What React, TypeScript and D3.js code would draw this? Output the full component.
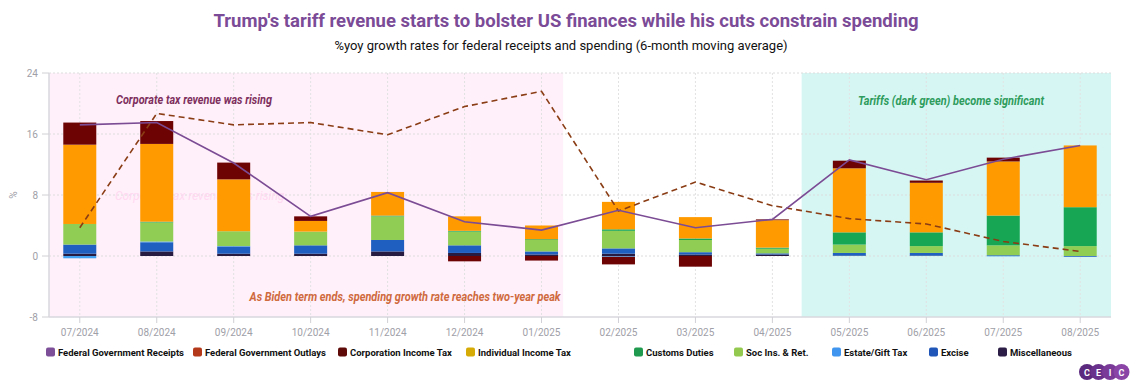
import React from "react";
import * as d3 from "d3";

const categories = ["07/2024","08/2024","09/2024","10/2024","11/2024","12/2024","01/2025","02/2025","03/2025","04/2025","05/2025","06/2025","07/2025","08/2025"];
const receipts = [17.2, 17.5, 12.2, 5.2, 8.3, 4.5, 3.4, 6.0, 3.7, 4.8, 12.6, 10.0, 12.7, 14.5];
const outlays = [3.7, 18.7, 17.2, 17.5, 15.9, 19.6, 21.6, 5.9, 9.7, 6.6, 4.9, 4.2, 1.9, 0.6];
const misc = [0.3, 0.6, 0.3, 0.3, 0.6, 0.4, 0.2, 0.3, 0.2, 0.2, 0.05, 0.05, 0.0, 0.0];
const excise = [1.2, 1.2, 0.95, 1.1, 1.5, 1.0, 0.4, 0.7, 0.3, 0.15, 0.35, 0.35, 0.1, -0.1];
const estate = [-0.3, 0.1, 0.05, 0.0, 0.0, 0.0, 0.0, -0.1, 0.0, 0.0, 0.0, 0.0, -0.05, 0.0];
const socIns = [2.7, 2.5, 1.95, 1.8, 3.1, 1.8, 1.5, 2.3, 1.6, 0.6, 1.1, 0.9, 1.3, 1.3];
const customs = [0.0, 0.1, 0.0, 0.0, 0.1, 0.1, 0.1, 0.2, 0.2, 0.15, 1.6, 1.8, 3.9, 5.1];
const individual = [10.4, 10.2, 6.8, 1.4, 3.1, 1.9, 1.8, 3.6, 2.8, 3.6, 8.4, 6.5, 7.1, 8.1];
const corporation = [2.9, 3.0, 2.2, 0.6, 0.0, -0.7, -0.6, -1.0, -1.4, 0.1, 1.0, 0.3, 0.5, 0.0];
const yTicks = [24, 16, 8, 0, -8];

const stackKeys = ["misc", "excise", "estate", "socIns", "customs", "individual", "corporation"];
const stackSeries: Record<string, number[]> = { misc, excise, estate, socIns, customs, individual, corporation };
const barColors: Record<string, string> = {
  misc: "#271b42",
  excise: "#1f5fbf",
  estate: "#43a3f2",
  socIns: "#8fcd55",
  customs: "#17a653",
  individual: "#ff9a00",
  corporation: "#6e0303",
};

const legendItems = [
  { label: "Federal Government Receipts", color: "#7c4f98", x: 46 },
  { label: "Federal Government Outlays", color: "#b4391b", x: 193 },
  { label: "Corporation Income Tax", color: "#5e0a08", x: 338 },
  { label: "Individual Income Tax", color: "#d7ab05", x: 466 },
  { label: "Customs Duties", color: "#1f9a4e", x: 634 },
  { label: "Soc Ins. & Ret.", color: "#93c94f", x: 734 },
  { label: "Estate/Gift Tax", color: "#4096ee", x: 832 },
  { label: "Excise", color: "#1f56b8", x: 929 },
  { label: "Miscellaneous", color: "#2b1d45", x: 998 },
];

const W = 1133, H = 387;
const left = 49, right = 1111, top = 73, bottom = 317;
const font = "Roboto, 'Noto Sans', sans-serif";

export default function App() {
  const x = d3.scalePoint<string>().domain(categories).range([left, right]).padding(0.4);
  const step = x.step();
  const y = d3.scaleLinear().domain([-8, 24]).range([bottom, top]);
  const barW = 33;

  const table = categories.map((c, i) => {
    const row: any = { cat: c };
    stackKeys.forEach((k) => (row[k] = stackSeries[k][i]));
    return row;
  });
  const stacked = d3.stack<any>().keys(stackKeys).offset(d3.stackOffsetDiverging)(table);

  const lineGen = d3
    .line<number>()
    .x((_, i) => x(categories[i]) as number)
    .y((d) => y(d));

  const pinkEnd = (x("01/2025") as number) + 0.28 * step;
  const cyanStart = (x("05/2025") as number) - 0.62 * step;

  return (
    <svg width={W} height={H} style={{ position: "absolute", left: 0, top: 0, background: "#fff" }} fontFamily={font}>
      <rect x={0} y={0} width={W} height={H} fill="#fff" />
      <text x={566} y={27} textAnchor="middle" fontSize={18.5} fontWeight="bold" fill="#7b4b97">
        Trump's tariff revenue starts to bolster US finances while his cuts constrain spending
      </text>
      <text x={561} y={50} textAnchor="middle" fontSize={13} fill="#111">
        %yoy growth rates for federal receipts and spending (6-month moving average)
      </text>

      {/* highlighted regions */}
      <rect x={left} y={top} width={pinkEnd - left} height={bottom - top} fill="#fff0fa" />
      <rect x={cyanStart} y={top} width={right - cyanStart} height={bottom - top} fill="#d6f6f4" />

      {/* gridlines */}
      {yTicks.filter((t) => t !== -8).map((t) => (
        <line key={"gy" + t} x1={left} x2={right} y1={y(t)} y2={y(t)} stroke="#dcdcdc" strokeDasharray="2,2" strokeWidth={1} />
      ))}
      {categories.map((c) => (
        <line key={"gx" + c} x1={x(c)} x2={x(c)} y1={top} y2={bottom} stroke="#e2e2e2" strokeDasharray="2,2" strokeWidth={1} />
      ))}

      {/* axes */}
      <line x1={left} x2={left} y1={top} y2={bottom} stroke="#d9d9de" strokeWidth={1.5} />
      <line x1={left} x2={right} y1={bottom} y2={bottom} stroke="#d9d9de" strokeWidth={1.5} />
      {yTicks.map((t) => (
        <g key={"yt" + t}>
          <line x1={left - 7} x2={left} y1={y(t)} y2={y(t)} stroke="#d0d0d6" />
          <text x={left - 11} y={y(t) + 3.5} textAnchor="end" fontSize={10} fill="#a0a0a8">{t}</text>
        </g>
      ))}
      {categories.map((c) => (
        <g key={"xt" + c}>
          <line x1={x(c)} x2={x(c)} y1={bottom} y2={bottom + 6} stroke="#d0d0d6" />
          <text x={x(c)} y={336} textAnchor="middle" fontSize={10} fill="#a0a0a8">{c}</text>
        </g>
      ))}
      <text transform={`translate(17,195) rotate(-90)`} textAnchor="middle" fontSize={10} fill="#a0a0a8">%</text>

      {/* faint ghost annotation */}
      <text x={115} y={200} fontSize={12} fill="#ffd9f1" fontStyle="italic">Corporate tax revenue was rising</text>

      {/* bars */}
      {stacked.map((s) => (
        <g key={s.key} fill={barColors[s.key]}>
          {s.map((d, i) => {
            const y0 = y(d[0]), y1 = y(d[1]);
            const h = Math.abs(y0 - y1);
            if (h < 0.01) return null;
            return (
              <rect key={i} x={(x(categories[i]) as number) - barW / 2} y={Math.min(y0, y1)} width={barW} height={h} />
            );
          })}
        </g>
      ))}

      {/* lines */}
      <path d={lineGen(outlays) || ""} fill="none" stroke="#8a3d14" strokeWidth={1.6} strokeDasharray="6,4" />
      <path d={lineGen(receipts) || ""} fill="none" stroke="#7b4b94" strokeWidth={1.6} />

      {/* annotations */}
      <text x={194} y={104} textAnchor="middle" fontSize={12} fontWeight="bold" fontStyle="italic" fill="#7e2f5e" textLength={156} lengthAdjust="spacingAndGlyphs">
        Corporate tax revenue was rising
      </text>
      <text x={951} y={105} textAnchor="middle" fontSize={12} fontWeight="bold" fontStyle="italic" fill="#2e9c5c" textLength={186} lengthAdjust="spacingAndGlyphs">
        Tariffs (dark green) become significant
      </text>
      <text x={405} y={301} textAnchor="middle" fontSize={12} fontWeight="bold" fontStyle="italic" fill="#cf6a3e" textLength={311} lengthAdjust="spacingAndGlyphs">
        As Biden term ends, spending growth rate reaches two-year peak
      </text>

      {/* legend */}
      {legendItems.map((it) => (
        <g key={it.label}>
          <rect x={it.x} y={347.5} width={9} height={9} rx={2} fill={it.color} />
          <text x={it.x + 12} y={355.5} fontSize={9.5} fontWeight="bold" fill="#111">{it.label}</text>
        </g>
      ))}

      {/* CEIC logo */}
      {["C", "E", "I", "C"].map((ch, i) => (
        <g key={"logo" + i}>
          <circle cx={1087 + i * 11.5} cy={372} r={8} fill={["#5b2a7e", "#6a318c", "#7a3a98", "#8a44a6"][i]} />
          <text x={1087 + i * 11.5} y={375.5} textAnchor="middle" fontSize={9} fontWeight="bold" fill="#fff">{ch}</text>
        </g>
      ))}
    </svg>
  );
}
